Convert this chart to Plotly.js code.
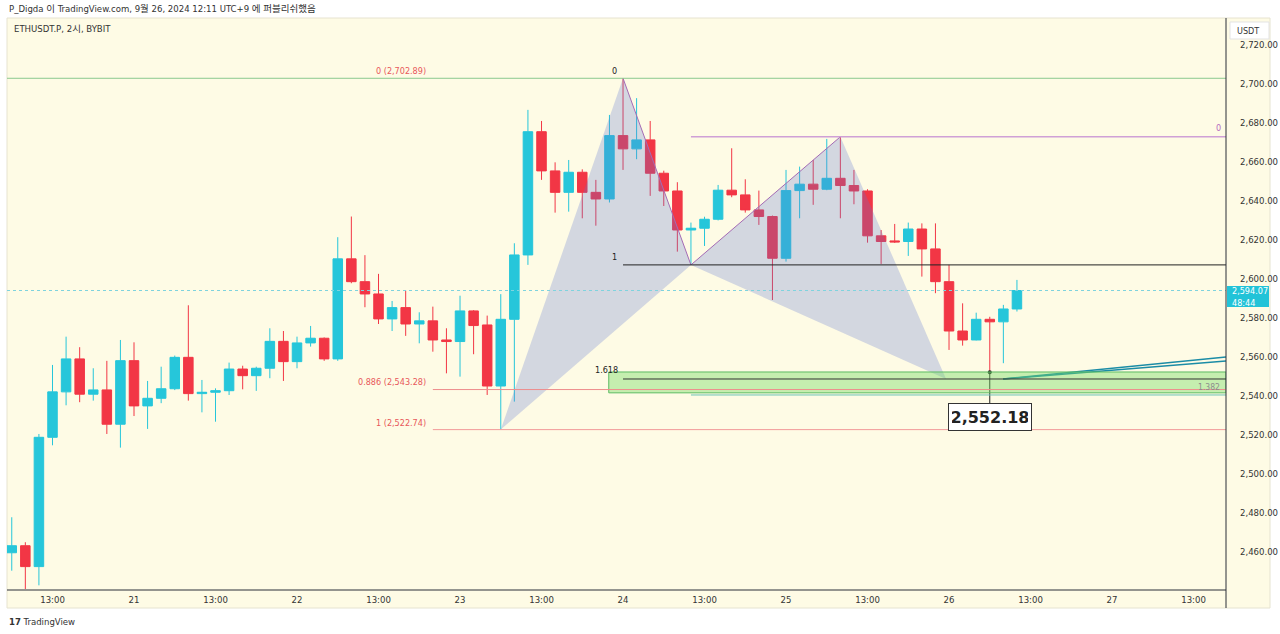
<!DOCTYPE html>
<html>
<head>
<meta charset="utf-8">
<script src="https://cdn.plot.ly/plotly-3.0.1.min.js"></script>
<style>
html,body{margin:0;padding:0;background:#ffffff;}
#chart{width:1280px;height:634px;}
</style>
</head>
<body>
<div id="chart"></div>
<script>
// ---- data (2h candles, ETHUSDT.P BYBIT, UTC+9), first bar 2024-09-20 07:00 ----
const startTime = Date.UTC(2024, 8, 20, 7, 0);
const barHours = 2;
const opens = [2459.6,2463.2,2452.5,2518.8,2542.1,2559.0,2540.9,2543.1,2525.5,2558.1,
  2534.9,2538.8,2543.7,2559.8,2541.2,2541.9,2542.7,2553.8,2550.4,2554.2,
  2568.0,2557.6,2567.2,2569.6,2559.0,2610.3,2598.6,2592.3,2579.5,2585.3,
  2576.9,2578.5,2568.7,2567.9,2583.6,2576.4,2545.1,2579.3,2612.3,2675.5,
  2655.4,2644.4,2654.7,2644.4,2641.0,2673.5,2666.7,2671.3,2654.2,2645.1,
  2625.1,2626.0,2630.6,2645.5,2643.1,2635.4,2632.0,2610.6,2645.3,2648.6,
  2646.0,2651.6,2647.9,2645.1,2622.1,2619.5,2619.2,2625.6,2615.4,2598.6,
  2573.3,2568.7,2579.3,2578.0,2584.6];
const highs = [2477.8,2465.0,2520.5,2555.9,2570.4,2565.0,2554.2,2558.0,2568.7,2567.5,
  2547.7,2555.0,2560.7,2586.5,2548.2,2543.9,2557.1,2555.5,2555.0,2574.7,
  2573.3,2570.4,2575.9,2570.0,2621.4,2632.0,2612.2,2602.6,2588.7,2594.0,
  2582.9,2585.8,2574.7,2591.4,2584.0,2581.2,2592.2,2618.3,2686.7,2681.0,
  2659.8,2661.0,2656.2,2650.8,2684.1,2702.89,2692.7,2681.0,2655.5,2649.6,
  2628.9,2631.9,2648.2,2667.0,2651.1,2645.3,2632.5,2655.9,2657.6,2661.0,
  2671.8,2672.9,2655.9,2646.0,2625.1,2628.2,2628.9,2628.5,2628.5,2607.2,
  2587.5,2582.7,2580.6,2586.7,2599.5];
const lows = [2450.4,2441.0,2442.9,2514.7,2535.2,2536.8,2537.6,2520.5,2513.5,2529.7,
  2523.1,2536.3,2543.0,2537.6,2531.6,2526.8,2540.5,2543.4,2542.6,2549.1,
  2547.7,2554.2,2565.3,2558.0,2558.0,2597.8,2585.5,2576.9,2573.3,2570.8,
  2567.0,2562.7,2551.6,2549.9,2561.4,2540.5,2522.74,2537.1,2607.2,2650.8,
  2634.0,2634.5,2631.1,2627.3,2639.2,2655.9,2661.4,2642.6,2637.4,2614.0,
  2607.2,2616.9,2630.0,2641.9,2634.0,2627.7,2589.2,2608.9,2631.1,2638.0,
  2645.5,2631.1,2638.3,2618.6,2607.7,2618.5,2611.8,2601.2,2592.7,2563.6,
  2565.8,2568.5,2552.18,2556.8,2583.3];
const closes = [2463.2,2452.5,2518.8,2542.1,2559.0,2540.9,2543.1,2525.5,2558.1,2534.9,
  2538.8,2543.7,2559.8,2541.2,2541.9,2542.7,2553.8,2550.4,2554.2,2568.0,
  2557.6,2567.2,2569.6,2559.0,2610.3,2598.6,2592.3,2579.5,2585.3,2576.9,
  2578.5,2568.7,2567.9,2583.6,2576.1,2545.1,2579.3,2612.3,2675.5,2655.4,
  2644.4,2654.7,2644.4,2641.0,2673.5,2666.7,2671.3,2654.2,2645.1,2625.1,
  2626.0,2630.6,2645.5,2643.1,2635.4,2632.0,2610.6,2645.3,2648.6,2646.0,
  2651.6,2647.9,2645.1,2622.1,2619.2,2619.0,2625.6,2615.4,2598.6,2573.3,
  2568.7,2579.3,2578.0,2584.6,2594.07];

// x tick labels (one every 6 bars, first at bar index 3)
const tickBars = [3,9,15,21,27,33,39,45,51,57,63,69,75,81,87];
const tickLabels = ['13:00','21','13:00','22','13:00','23','13:00','24','13:00','25','13:00','26','13:00','27','13:00'];
const priceTicks = [2460,2480,2500,2520,2540,2560,2580,2600,2620,2640,2660,2680,2700,2720];

// drawing objects (bar index, price)
const patternBars   = [36, 45, 50, 61, 68.78];          // X A B C D
const patternPrices = [2522.74, 2702.89, 2607.2, 2672.9, 2548.7];
const fibLevels = {zero:2702.89, p886:2543.28, one:2522.74};
const lastPrice = 2594.07;
const lowMark = {bar:72, price:2552.18, boxTop:2535.9, boxMid:2529.0};
const zoneTop = 2552.3, zoneBottom = 2541.6, zoneLine = 2548.7, zoneStartBar = 43.95;
const rayStart = {bar:72.98, price:2548.7};
const rayEndPrices = [2560.0, 2557.9];
const xRangeBars = [-0.35, 89.39];
const yRange = [2440.5, 2733.8];

function tAt(i){
  const d = new Date(startTime + i*barHours*3600000);
  return d.toISOString().replace('T',' ').slice(0,19);
}
const times = opens.map((_,i)=>tAt(i));

const UP = '#26C6DA', DOWN = '#F23645';
const FONT = '"Liberation Sans Narrow", "DejaVu Sans Condensed", "Noto Sans CJK KR", sans-serif';
const xRight = tAt(xRangeBars[1]);

const traces = [];
traces.push({
  type:'candlestick', x:times, open:opens, high:highs, low:lows, close:closes,
  increasing:{line:{color:UP,width:1}, fillcolor:UP},
  decreasing:{line:{color:DOWN,width:1}, fillcolor:DOWN},
  whiskerwidth:0, hoverinfo:'skip', showlegend:false
});
// harmonic triangles XAB and BCD
const tri1 = [0,1,2,0], tri2 = [2,3,4,2];
[tri1, tri2].forEach(tr=>{
  traces.push({type:'scatter', mode:'lines', x:tr.map(k=>tAt(patternBars[k])), y:tr.map(k=>patternPrices[k]),
    fill:'toself', fillcolor:'rgba(95,120,210,0.27)', line:{width:0}, hoverinfo:'skip', showlegend:false});
});
// purple legs A-B-C
traces.push({type:'scatter', mode:'lines', x:[1,2,3].map(k=>tAt(patternBars[k])), y:[1,2,3].map(k=>patternPrices[k]),
  line:{color:'#A46BB5', width:1}, hoverinfo:'skip', showlegend:false});
// ray lines
rayEndPrices.forEach(p=>{
  traces.push({type:'scatter', mode:'lines', x:[tAt(rayStart.bar), xRight], y:[rayStart.price, p],
    line:{color:'#1B8CA6', width:1.6}, hoverinfo:'skip', showlegend:false});
});
// low marker dot + stem
traces.push({type:'scatter', mode:'lines', x:[tAt(lowMark.bar), tAt(lowMark.bar)], y:[lowMark.price, lowMark.boxTop],
  line:{color:'#222', width:1}, hoverinfo:'skip', showlegend:false});
traces.push({type:'scatter', mode:'markers', x:[tAt(lowMark.bar)], y:[lowMark.price],
  marker:{color:'#222', size:4}, hoverinfo:'skip', showlegend:false});

// helpers for paper coords
const L=7, R=54, T=18, B=44, W=1280, H=634;
const pw = W-L-R, ph = H-T-B;
const px = v => (v-L)/pw;
const py = v => (H-B-v)/ph;

const shapes = [
  {type:'rect', xref:'paper', yref:'paper', x0:px(7), x1:px(1270), y0:py(608), y1:py(18),
   fillcolor:'#FEFBE5', line:{color:'#E6E3D0', width:1}, layer:'below'},
  {type:'line', xref:'paper', yref:'y', x0:0, x1:1, y0:fibLevels.zero, y1:fibLevels.zero, line:{color:'#8BC98E', width:1}},
  {type:'line', xref:'x', yref:'y', x0:tAt(patternBars[2]), x1:xRight, y0:patternPrices[3], y1:patternPrices[3], line:{color:'#CFA0D6', width:1.3}},
  {type:'line', xref:'x', yref:'y', x0:tAt(patternBars[1]), x1:xRight, y0:patternPrices[2], y1:patternPrices[2], line:{color:'#222', width:1}},
  {type:'rect', xref:'x', yref:'y', x0:tAt(zoneStartBar), x1:xRight, y0:zoneBottom, y1:zoneTop,
   fillcolor:'rgba(120,220,100,0.42)', line:{color:'#5DBB63', width:1}},
  {type:'line', xref:'x', yref:'y', x0:tAt(patternBars[2]), x1:xRight, y0:2540.5, y1:2540.5, line:{color:'#6CC3B5', width:1}},
  {type:'line', xref:'x', yref:'y', x0:tAt(31), x1:xRight, y0:fibLevels.p886, y1:fibLevels.p886, line:{color:'#EE8C8C', width:1}},
  {type:'line', xref:'x', yref:'y', x0:tAt(31), x1:xRight, y0:fibLevels.one, y1:fibLevels.one, line:{color:'#F29A9A', width:1}},
  {type:'line', xref:'x', yref:'y', x0:tAt(45), x1:xRight, y0:zoneLine, y1:zoneLine, line:{color:'#333', width:1}},
  {type:'line', xref:'paper', yref:'y', x0:0, x1:1, y0:lastPrice, y1:lastPrice, line:{color:'#7FD3DE', width:1, dash:'dot'}},
  {type:'line', xref:'paper', yref:'paper', x0:1, x1:1, y0:py(608), y1:py(18), line:{color:'#2A2E39', width:1}},
  {type:'line', xref:'paper', yref:'paper', x0:0, x1:1, y0:0, y1:0, line:{color:'#2A2E39', width:1}},
  {type:'rect', xref:'paper', yref:'paper', x0:px(1227), x1:px(1269), y0:py(307), y1:py(286), fillcolor:'#22C3D8', line:{width:0}},
  {type:'rect', xref:'paper', yref:'paper', x0:px(1230), x1:px(1269), y0:py(39), y1:py(22), fillcolor:'#FFFFFF', line:{color:'#E3E3E3', width:1}}
];

const annotations = [
  {xref:'paper', yref:'paper', x:px(7), y:py(9), xanchor:'left', yanchor:'middle', showarrow:false,
   text:'P_Digda 이 TradingView.com, 9월 26, 2024 12:11 UTC+9 에 퍼블리쉬했음', font:{family:FONT, size:9.5, color:'#333'}},
  {xref:'paper', yref:'paper', x:px(12), y:py(28), xanchor:'left', yanchor:'middle', showarrow:false,
   text:'ETHUSDT.P, 2시, BYBIT', font:{family:FONT, size:9.5, color:'#333'}},
  {xref:'paper', yref:'paper', x:px(7), y:py(621), xanchor:'left', yanchor:'middle', showarrow:false,
   text:'<b>17</b> TradingView', font:{family:FONT, size:9.5, color:'#333'}},
  {xref:'paper', yref:'paper', x:px(1235), y:py(30.5), xanchor:'left', yanchor:'middle', showarrow:false,
   text:'USDT', font:{family:FONT, size:9, color:'#333'}},
  {xref:'paper', yref:'paper', x:px(1230), y:py(296.5), xanchor:'left', yanchor:'middle', showarrow:false, align:'left',
   text:'2,594.07<br>48:44', font:{family:FONT, size:9, color:'#FFFFFF'}},
  {xref:'x', yref:'y', x:tAt(30.64), y:fibLevels.zero, xanchor:'right', yanchor:'bottom', yshift:0, showarrow:false,
   text:'0 (2,702.89)', font:{family:FONT, size:9, color:'#E8585A'}},
  {xref:'x', yref:'y', x:tAt(30.64), y:fibLevels.p886, xanchor:'right', yanchor:'bottom', yshift:1, showarrow:false,
   text:'0.886 (2,543.28)', font:{family:FONT, size:9, color:'#E8585A'}},
  {xref:'x', yref:'y', x:tAt(30.64), y:fibLevels.one, xanchor:'right', yanchor:'bottom', yshift:0, showarrow:false,
   text:'1 (2,522.74)', font:{family:FONT, size:9, color:'#E8585A'}},
  {xref:'x', yref:'y', x:tAt(44.4), y:fibLevels.zero, xanchor:'center', yanchor:'bottom', yshift:0, showarrow:false,
   text:'0', font:{family:FONT, size:9, color:'#222'}},
  {xref:'x', yref:'y', x:tAt(44.4), y:patternPrices[2], xanchor:'center', yanchor:'bottom', yshift:1, showarrow:false,
   text:'1', font:{family:FONT, size:9, color:'#222'}},
  {xref:'x', yref:'y', x:tAt(43.75), y:zoneLine, xanchor:'center', yanchor:'bottom', yshift:2, showarrow:false,
   text:'1.618', font:{family:FONT, size:9, color:'#222'}},
  {xref:'paper', yref:'y', x:px(1222), y:zoneLine, xanchor:'right', yanchor:'top', yshift:-1, showarrow:false,
   text:'1.382', font:{family:FONT, size:8.5, color:'#8C8C8C'}},
  {xref:'paper', yref:'y', x:px(1218), y:patternPrices[3], xanchor:'center', yanchor:'bottom', yshift:2, showarrow:false,
   text:'0', font:{family:FONT, size:9, color:'#B46BC0'}},
  {xref:'x', yref:'y', x:tAt(lowMark.bar), y:lowMark.boxMid, xanchor:'center', yanchor:'middle', showarrow:false,
   text:'<b>2,552.18</b>', font:{family:'"DejaVu Sans", sans-serif', size:16, color:'#222'},
   width:76, height:20, align:'center',
   bgcolor:'#FFFFFF', bordercolor:'#333', borderwidth:1, borderpad:3}
];

const layout = {
  width:W, height:H,
  margin:{l:L, r:R, t:T, b:B, pad:0},
  paper_bgcolor:'#FFFFFF', plot_bgcolor:'#FEFBE5',
  showlegend:false,
  boxgap:0, boxgroupgap:0.3,
  xaxis:{type:'date', range:[tAt(xRangeBars[0]), xRight], rangeslider:{visible:false},
    showgrid:false, zeroline:false, showline:false, ticks:'', ticklabelstandoff:2,
    tickmode:'array', tickvals:tickBars.map(tAt), ticktext:tickLabels,
    tickfont:{family:FONT, size:9.5, color:'#333'}, fixedrange:true},
  yaxis:{side:'right', range:yRange, showgrid:false, zeroline:false, showline:false, ticks:'',
    tickmode:'array', tickvals:priceTicks, tickformat:',.2f', ticklabelstandoff:13,
    tickfont:{family:FONT, size:9.5, color:'#333'}, fixedrange:true},
  shapes:shapes, annotations:annotations,
  hovermode:false
};

Plotly.newPlot('chart', traces, layout, {displayModeBar:false, staticPlot:true});
</script>
</body>
</html>
